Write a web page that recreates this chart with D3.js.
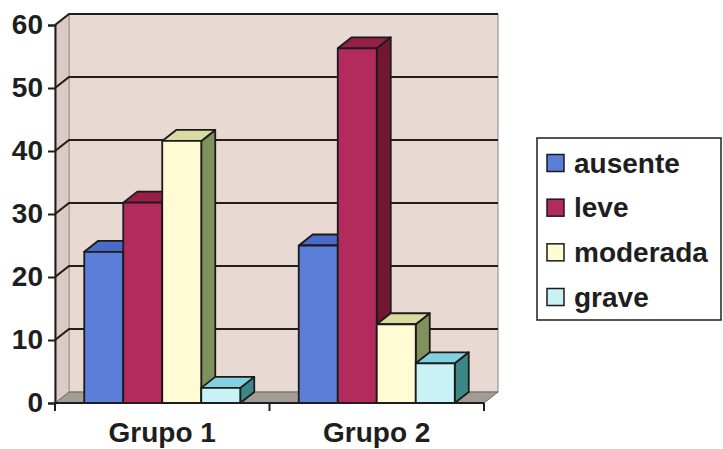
<!DOCTYPE html>
<html>
<head>
<meta charset="utf-8">
<script src="https://cdn.jsdelivr.net/npm/d3@7"></script>
<style>
  html, body { margin: 0; padding: 0; background: #fff; }
  svg { display: block; }
  text { font-family: "Liberation Sans", Arial, sans-serif; font-weight: bold; fill: #1e1e1e; }
</style>
</head>
<body>
<svg id="chart" width="723" height="449"></svg>
<script>
// Chart data
const groups = ["Grupo 1", "Grupo 2"];
const seriesNames = ["ausente", "leve", "moderada", "grave"];
const ausente = [24, 25];
const leve = [31.8, 56.3];
const moderada = [41.6, 12.5];
const grave = [2.4, 6.3];
const yTicks = [0, 10, 20, 30, 40, 50, 60];

const seriesValues = [ausente, leve, moderada, grave];

// Face colours per series: front, top, side
const palette = [
  { front: "#5b7fd8", top: "#4a6cc8", side: "#34509e" },
  { front: "#b32a5c", top: "#962048", side: "#731634" },
  { front: "#fffbd2", top: "#d9dca2", side: "#7f925e" },
  { front: "#c8f2f6", top: "#82d0e0", side: "#3d8786" }
];

const svg = d3.select("#chart");

// Plot geometry: front plane and depth offset for the 3D look
const plotLeft = 55, plotRight = 484, plotTop = 25, plotBottom = 403;
const DX = 14, DY = -11;

const y = d3.scaleLinear().domain([0, 60]).range([plotBottom, plotTop]);
const x = d3.scaleBand().domain(groups).range([plotLeft, plotRight]);
const xs = d3.scaleBand().domain(seriesNames).range([0, x.bandwidth()])
  .paddingInner(0).paddingOuter(0.75);

const poly = pts => pts.map(p => p.join(",")).join(" ");

// Back wall
svg.append("polygon")
  .attr("points", poly([[plotLeft + DX, plotTop + DY], [plotRight + DX, plotTop + DY], [plotRight + DX, plotBottom + DY], [plotLeft + DX, plotBottom + DY]]))
  .attr("fill", "#e8d9d3").attr("stroke", "#9a9696").attr("stroke-width", 1.2);

// Side wall
svg.append("polygon")
  .attr("points", poly([[plotLeft, plotTop], [plotLeft + DX, plotTop + DY], [plotLeft + DX, plotBottom + DY], [plotLeft, plotBottom]]))
  .attr("fill", "#dccbc4").attr("stroke", "#9a9696").attr("stroke-width", 1);

// Floor
svg.append("polygon")
  .attr("points", poly([[plotLeft, plotBottom], [plotRight, plotBottom], [plotRight + DX, plotBottom + DY], [plotLeft + DX, plotBottom + DY]]))
  .attr("fill", "#a39b94").attr("stroke", "#6e6a66").attr("stroke-width", 1);

// Gridlines on back and side walls
const grid = svg.append("g");
yTicks.filter(t => t > 0).forEach(t => {
  const yy = y(t);
  grid.append("polyline")
    .attr("points", poly([[plotLeft, yy], [plotLeft + DX, yy + DY], [plotRight + DX, yy + DY]]))
    .attr("fill", "none").attr("stroke", "#221f1a").attr("stroke-width", 2.2);
});

// Bars
groups.forEach((g, gi) => {
  seriesNames.forEach((s, si) => {
    const v = seriesValues[si][gi];
    const x0 = x(g) + xs(s);
    const x1 = x0 + xs.bandwidth();
    const y0 = y(v), yb = y(0);
    const c = palette[si];
    const bar = svg.append("g").attr("stroke", "#1b1b1b").attr("stroke-width", 1.8).attr("stroke-linejoin", "round");
    bar.append("polygon")
      .attr("points", poly([[x1, y0], [x1 + DX, y0 + DY], [x1 + DX, yb + DY], [x1, yb]]))
      .attr("fill", c.side);
    bar.append("polygon")
      .attr("points", poly([[x0, y0], [x0 + DX, y0 + DY], [x1 + DX, y0 + DY], [x1, y0]]))
      .attr("fill", c.top);
    bar.append("rect")
      .attr("x", x0).attr("y", y0).attr("width", x1 - x0).attr("height", yb - y0)
      .attr("fill", c.front);
  });
});

// Y axis
const yAxis = svg.append("g").attr("transform", `translate(${plotLeft},0)`)
  .call(d3.axisLeft(y).tickValues(yTicks).tickSize(7).tickPadding(5));
yAxis.select(".domain").attr("stroke", "#1e1e1e").attr("stroke-width", 2);
yAxis.selectAll(".tick line").attr("stroke", "#1e1e1e").attr("stroke-width", 2);
yAxis.selectAll(".tick text").attr("font-size", 28).attr("fill", "#1e1e1e")
  .attr("font-family", '"Liberation Sans", Arial, sans-serif').attr("font-weight", "bold");

// X axis (front floor edge)
const xAxis = svg.append("g").attr("transform", `translate(0,${plotBottom})`);
xAxis.append("line").attr("x1", plotLeft).attr("x2", plotRight).attr("stroke", "#1e1e1e").attr("stroke-width", 2);
[plotLeft, ...groups.slice(1).map(g => x(g)), plotRight].forEach(px => {
  xAxis.append("line").attr("x1", px).attr("x2", px).attr("y1", 0).attr("y2", 8)
    .attr("stroke", "#1e1e1e").attr("stroke-width", 2);
});
groups.forEach(g => {
  svg.append("text")
    .attr("x", x(g) + x.bandwidth() / 2).attr("y", 442)
    .attr("text-anchor", "middle").attr("font-size", 28).text(g);
});

// Legend
const legend = svg.append("g");
legend.append("rect").attr("x", 537).attr("y", 138).attr("width", 184).attr("height", 182)
  .attr("fill", "#fff").attr("stroke", "#1e1e1e").attr("stroke-width", 1.5);
const rowY = d3.scalePoint().domain(seriesNames).range([163, 297]);
seriesNames.forEach((s, si) => {
  const cy = rowY(s);
  legend.append("rect").attr("x", 547).attr("y", cy - 8.5).attr("width", 17).attr("height", 17)
    .attr("fill", palette[si].front).attr("stroke", "#1b1b1b").attr("stroke-width", 1.5);
  legend.append("text").attr("x", 574).attr("y", cy).attr("dy", "0.35em")
    .attr("font-size", 28).text(s);
});
</script>
</body>
</html>
